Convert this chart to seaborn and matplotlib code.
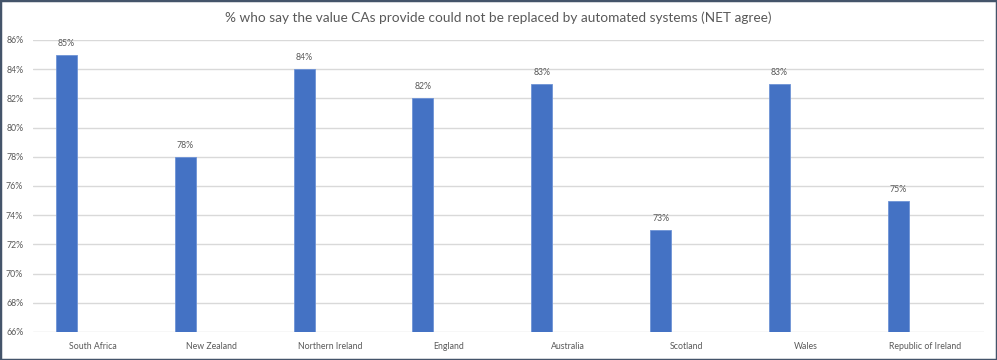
import matplotlib
matplotlib.use("Agg")
import matplotlib.pyplot as plt
import seaborn as sns
import numpy as np
import pandas as pd
from matplotlib.patches import Rectangle

countries = ["South Africa", "New Zealand", "Northern Ireland", "England",
             "Australia", "Scotland", "Wales", "Republic of Ireland"]
values = [85, 78, 84, 82, 83, 73, 83, 75]
yticks = [66, 68, 70, 72, 74, 76, 78, 80, 82, 84, 86]
title = "% who say the value CAs provide could not be replaced by automated systems (NET agree)"

sns.set_theme(style="white")
plt.rcParams["font.family"] = ["Lato", "DejaVu Sans"]

df = pd.DataFrame({"country": countries, "value": values})

fig = plt.figure(figsize=(9.97, 3.6), dpi=100)
ax = fig.add_axes([33/997, 1-332/360, (984-33)/997, (332-40)/360])

bar_w = 0.177
offset = -0.22
sns.barplot(data=df, x="country", y="value", color="#4472C4", width=bar_w,
            edgecolor="#6E93D6", linewidth=0.6, ax=ax, saturation=1)
for p in ax.patches:
    p.set_x(p.get_x() + offset)

ax.set_ylim(66, 86)
ax.set_xlim(-0.5, len(countries) - 0.5)
ax.set_yticks(yticks)
ax.set_yticklabels([f"{t}%" for t in yticks])
ax.set_xlabel("")
ax.set_ylabel("")
for t in yticks:
    ax.axhline(t, color="#D9D9D9", lw=1, zorder=0)
for s in ax.spines.values():
    s.set_visible(False)
ax.tick_params(axis="both", length=0, labelsize=6.3, colors="#595959")
ax.tick_params(axis="y", pad=7)
ax.tick_params(axis="x", pad=7)

for p, v in zip(ax.patches, values):
    ax.annotate(f"{v}%", (p.get_x() + p.get_width()/2, v), xytext=(0, 5),
                textcoords="offset points", ha="center", va="bottom",
                fontsize=6.3, color="#595959")

fig.text(0.5, 1-18/360, title, ha="center", va="center", fontsize=9.8, color="#595959")
fig.patches.append(Rectangle((0, 0), 1, 1, transform=fig.transFigure, fill=False,
                             edgecolor="#44546A", linewidth=2.5))
fig.savefig("out.png", dpi=100)
